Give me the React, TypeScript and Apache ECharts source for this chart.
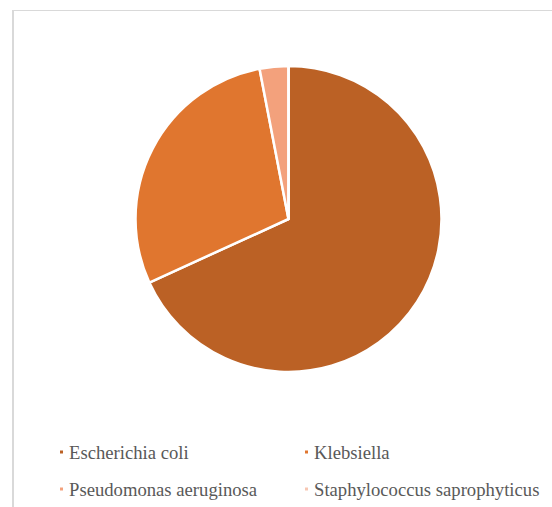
import React, { useEffect, useRef } from "react";
import * as echarts from "echarts";

const categories = [
  "Escherichia coli",
  "Klebsiella",
  "Pseudomonas aeruginosa",
  "Staphylococcus saprophyticus",
];
const values = [45, 19, 2, 0];
const colors = ["#BB6125", "#E0762F", "#F3A17C", "#F7C6B2"];

export default function App() {
  const ref = useRef<HTMLDivElement>(null);
  useEffect(() => {
    document.body.style.margin = "0";
    const chart = echarts.init(ref.current!, null, { renderer: "svg" });
    const font = "Liberation Serif, Times New Roman, serif";
    const legendCommon = {
      orient: "vertical" as const,
      top: 437,
      itemWidth: 5,
      itemHeight: 5,
      itemGap: 17,
      icon: "rect",
      selectedMode: false,
      textStyle: {
        fontFamily: font,
        fontSize: 18.67,
        color: "#595959",
        lineHeight: 20,
      },
    };
    chart.setOption({
      animation: false,
      backgroundColor: "#ffffff",
      color: colors,
      legend: [
        { ...legendCommon, left: 53, data: [categories[0], categories[2]] },
        { ...legendCommon, left: 298, data: [categories[1], categories[3]] },
      ],
      graphic: [
        {
          type: "line",
          shape: { x1: 13, y1: 10, x2: 13, y2: 507 },
          style: { stroke: "#d9d9d9", lineWidth: 2 },
        },
        {
          type: "line",
          shape: { x1: 12, y1: 10.5, x2: 552, y2: 10.5 },
          style: { stroke: "#d9d9d9", lineWidth: 1 },
        },
      ],
      series: [
        {
          type: "pie",
          center: [288.5, 219],
          radius: 153,
          startAngle: 90,
          clockwise: true,
          label: { show: false },
          labelLine: { show: false },
          itemStyle: { borderColor: "#ffffff", borderWidth: 2.5 },
          emphasis: { disabled: true },
          data: categories.map((name, i) => ({ name, value: values[i] })),
        },
      ],
    });
    return () => chart.dispose();
  }, []);
  return <div ref={ref} style={{ width: 552, height: 507 }} />;
}
